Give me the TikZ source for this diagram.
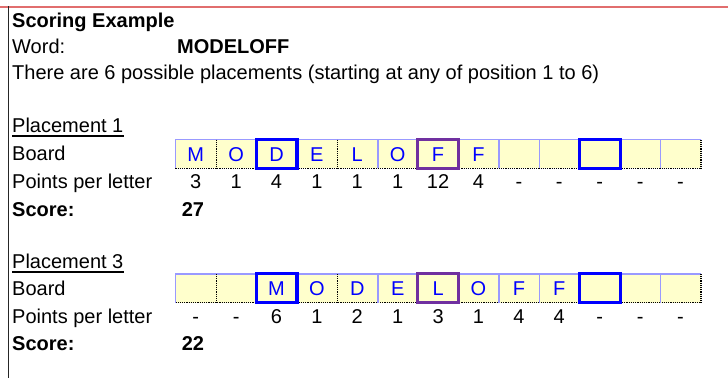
\documentclass[tikz,border=0pt]{standalone}
\usepackage{fontspec}
\setmainfont{Liberation Sans}

\definecolor{cellfill}{RGB}{255,255,204}
\definecolor{gridblue}{RGB}{153,153,255}
\definecolor{letterblue}{RGB}{0,0,255}
\definecolor{boxpurple}{RGB}{112,48,160}
\definecolor{pagered}{RGB}{225,110,110}

\tikzset{
  every node/.style={font=\fontsize{20}{24}\selectfont, inner sep=0pt,
    text height=14pt, text depth=0pt},
  rowlabel/.style={anchor=west},
  cell/.style={fill=cellfill, text=letterblue, minimum width=40.4pt, minimum height=28.5pt},
  sepblue/.style={gridblue, line width=1.6pt},
  sepdark/.style={black, densely dotted, line width=1.2pt},
  gridtop/.style={gridblue, line width=1.4pt},
  bluebox/.style={letterblue, line width=3.2pt},
  purplebox/.style={boxpurple, line width=3.2pt},
}

\begin{document}
\begin{tikzpicture}[x=1pt,y=-1pt]
\useasboundingbox (0,0) rectangle (728,378);

% Sheet edges
\draw[pagered, line width=2pt] (0,7) -- (728,7);
\draw[black!85, line width=1.6pt] (8.5,6) -- (8.5,378);

% Heading
\node[rowlabel] (title) at (12,20) {\bfseries Scoring Example};
\node[rowlabel] (word) at (12,46.7) {Word:};
\node[rowlabel] (wordval) at (177,46.7) {\bfseries MODELOFF};
\node[rowlabel] (note) at (12,72) {There are 6 possible placements (starting at any of position 1 to 6)};

% Row labels
\node[rowlabel] (pla) at (12,125.5) {Placement 1};
\node[rowlabel] (boarda) at (12,153) {Board};
\node[rowlabel] (ptsa) at (12,181.5) {Points per letter};
\node[rowlabel] (scorea) at (12,209) {\bfseries Score:};
\node (scoreva) at (193,209) {\bfseries 27};

\node[rowlabel] (plb) at (12,261.5) {Placement 3};
\node[rowlabel] (boardb) at (12,288) {Board};
\node[rowlabel] (ptsb) at (12,316) {Points per letter};
\node[rowlabel] (scoreb) at (12,343) {\bfseries Score:};
\node (scorevb) at (193,343) {\bfseries 22};

\draw[line width=1.3pt] ([yshift=-3.4pt]pla.south west) -- ([yshift=-3.4pt]pla.south east);
\draw[line width=1.3pt] ([yshift=-3.4pt]plb.south west) -- ([yshift=-3.4pt]plb.south east);

% Board cells
\foreach \l [count=\i] in {M,O,D,E,L,O,F,F,{},{},{},{},{}} {
  \node[cell] (a\i) at ({175.5+40.4*(\i-0.5)},154) {\l};
}
\foreach \l [count=\i] in {{},{},M,O,D,E,L,O,F,F,{},{},{}} {
  \node[cell] (b\i) at ({175.5+40.4*(\i-0.5)},288.3) {\l};
}

% Points per letter
\foreach \v [count=\i] in {3,1,4,1,1,1,12,4,-,-,-,-,-} {
  \node (pa\i) at ({175.5+40.4*(\i-0.5)},181.5) {\v};
}
\foreach \v [count=\i] in {-,-,6,1,2,1,3,1,4,4,-,-,-} {
  \node (pb\i) at ({175.5+40.4*(\i-0.5)},316) {\v};
}

% Grid lines and bonus squares
\foreach \p in {a,b} {
  \draw[gridtop] (\p1.north west) -- (\p13.north east);
  \draw[sepdark] (\p1.south west) -- (\p13.south east);
  \draw[sepblue] (\p1.north west) -- (\p1.south west);
  \foreach \k/\s in {1/sepdark,4/sepdark,5/sepblue,8/sepblue,9/sepblue,12/sepblue,13/sepdark} {
    \draw[\s] (\p\k.north east) -- (\p\k.south east);
  }
  \draw[bluebox] (\p3.north west) rectangle (\p3.south east);
  \draw[bluebox] (\p11.north west) rectangle (\p11.south east);
  \draw[purplebox] (\p7.north west) rectangle (\p7.south east);
}
\end{tikzpicture}
\end{document}
